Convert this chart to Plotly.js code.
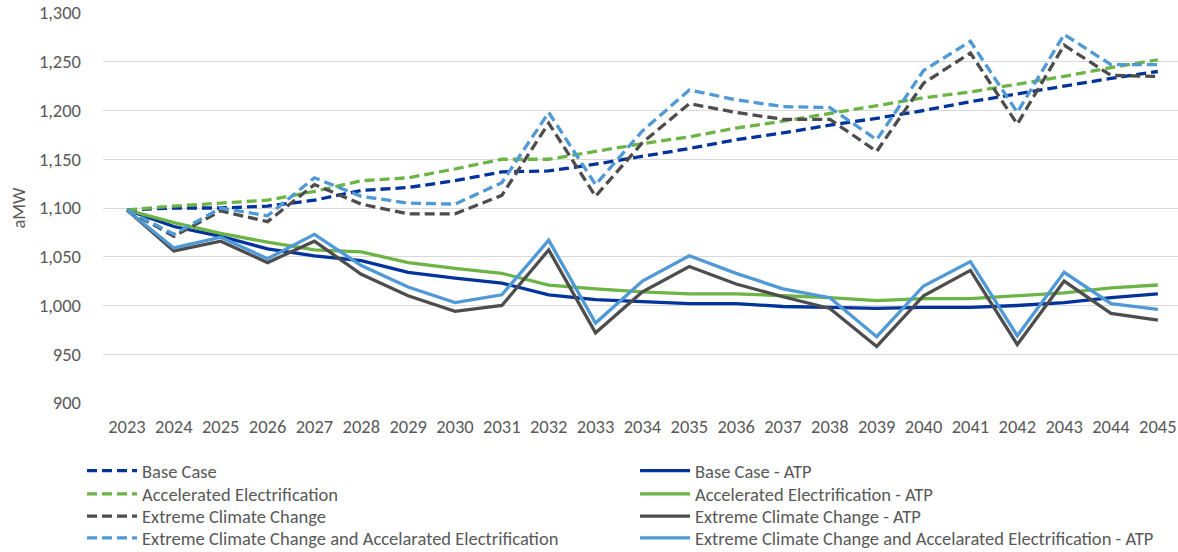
<!DOCTYPE html>
<html>
<head>
<meta charset="utf-8">
<script src="https://cdn.plot.ly/plotly-3.0.1.min.js"></script>
<style>html,body{margin:0;padding:0;background:#fff;}#chart{width:1178px;height:552px;}</style>
</head>
<body>
<div id="chart"></div>
<script>
const years = [2023,2024,2025,2026,2027,2028,2029,2030,2031,2032,2033,2034,2035,2036,2037,2038,2039,2040,2041,2042,2043,2044,2045];
const baseCase = [1098,1100,1100,1102,1108,1118,1121,1128,1137,1138,1145,1153,1161,1170,1177,1185,1192,1200,1209,1217,1225,1233,1240];
const accelElec = [1098,1102,1105,1108,1117,1128,1131,1140,1150,1150,1158,1166,1173,1182,1189,1197,1205,1213,1219,1227,1235,1244,1252];
const extremeCC = [1098,1071,1097,1086,1124,1104,1094,1094,1113,1187,1112,1167,1207,1198,1191,1191,1158,1228,1259,1186,1267,1236,1235];
const extremeCCAE = [1098,1073,1100,1092,1131,1112,1105,1104,1126,1198,1124,1179,1221,1211,1204,1203,1170,1241,1271,1198,1278,1247,1247];
const baseCaseATP = [1098,1081,1071,1058,1051,1046,1034,1028,1023,1011,1006,1004,1002,1002,999,998,997,998,998,1000,1003,1008,1012];
const accelElecATP = [1098,1085,1074,1065,1057,1055,1044,1038,1033,1021,1017,1014,1012,1012,1010,1008,1005,1007,1007,1010,1013,1018,1021];
const extremeCCATP = [1098,1056,1066,1044,1066,1032,1010,994,1000,1057,972,1014,1040,1022,1009,997,958,1010,1036,960,1025,992,985];
const extremeCCAEATP = [1098,1059,1070,1048,1073,1041,1019,1003,1011,1067,982,1025,1051,1033,1017,1008,968,1020,1045,969,1034,1002,996];

const names = ["Base Case","Accelerated Electrification","Extreme Climate Change","Extreme Climate Change and Accelarated Electrification"];
const colors = ["#02339a","#6db446","#4d4d4d","#4e99d6"];
const dashedSeries = [baseCase, accelElec, extremeCC, extremeCCAE];
const solidSeries = [baseCaseATP, accelElecATP, extremeCCATP, extremeCCAEATP];

const FONT = "Carlito, 'Noto Sans', sans-serif";
const FS = 18.5;
const TXT = "#595959";

// legend ids: dashed series rows -> legend..legend4 ; ATP rows -> legend5..legend8
const legIds = ["legend","legend2","legend3","legend4","legend5","legend6","legend7","legend8"];
const rowY = [-0.1744, -0.2341, -0.2915, -0.3469];

const traces = [];
for (let i = 0; i < 4; i++) {
  traces.push({x: years, y: solidSeries[i], name: names[i] + " - ATP", type: "scatter", mode: "lines",
    line: {color: colors[i], width: 3.3}, legend: legIds[4 + i]});
}
for (let i = 0; i < 4; i++) {
  traces.push({x: years, y: dashedSeries[i], name: names[i], type: "scatter", mode: "lines",
    line: {color: colors[i], width: 3.3, dash: "10px,5px"}, legend: legIds[i]});
}

const layout = {
  width: 1178, height: 552,
  margin: {l: 103, r: 0, t: 13, b: 149, autoexpand: false},
  paper_bgcolor: "#ffffff", plot_bgcolor: "#ffffff",
  showlegend: true,
  xaxis: {
    range: [2022.488, 2045.43], tickmode: "array", tickvals: years, ticktext: years.map(String),
    showgrid: false, zeroline: false, showline: false, ticks: "", ticklabelstandoff: 10,
    tickfont: {family: FONT, size: FS, color: TXT}
  },
  yaxis: {
    range: [900, 1300], dtick: 50, tickformat: ",d", showgrid: true, gridcolor: "#d9d9d9", gridwidth: 1,
    zeroline: false, showline: false, ticks: "", ticklabelstandoff: 21,
    tickfont: {family: FONT, size: FS, color: TXT},
    title: {text: "aMW", font: {family: FONT, size: FS, color: TXT}, standoff: 8}
  },
  font: {family: FONT}
};
for (let k = 0; k < 8; k++) {
  layout[legIds[k]] = {
    orientation: "v", xref: "paper", yref: "paper",
    x: k < 4 ? -0.0195 : 0.4949, y: rowY[k % 4], xanchor: "left", yanchor: "middle",
    bgcolor: "rgba(0,0,0,0)", borderwidth: 0, itemwidth: 50,
    font: {family: FONT, size: FS, color: TXT}
  };
}

Plotly.newPlot("chart", traces, layout, {displayModeBar: false, staticPlot: true});
</script>
</body>
</html>
